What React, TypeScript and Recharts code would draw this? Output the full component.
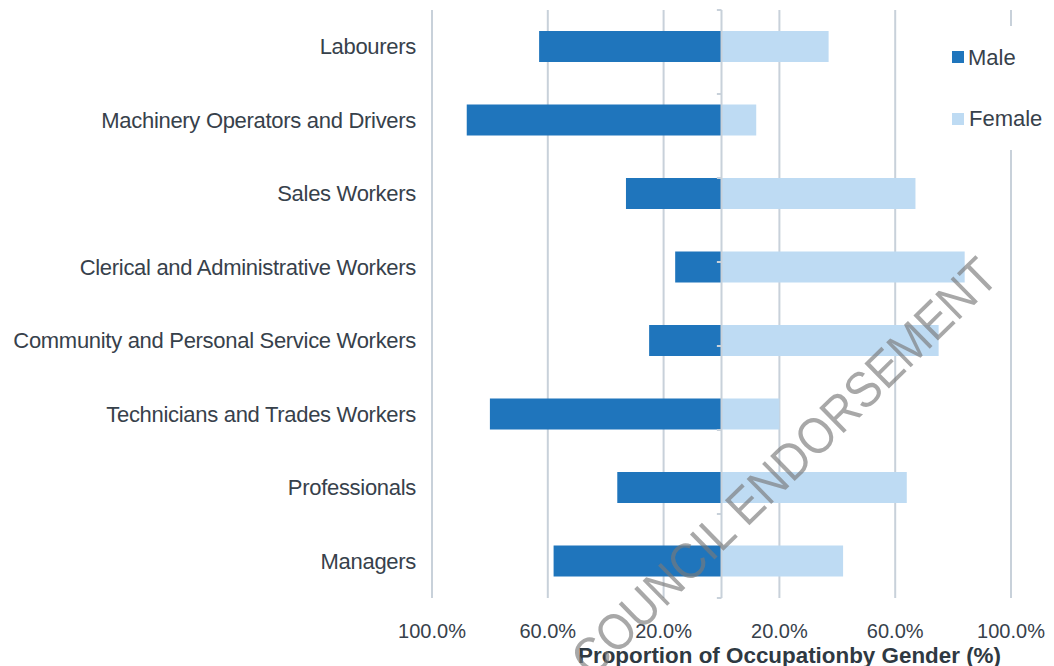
import React from 'react';
import { BarChart, Bar, XAxis, YAxis, CartesianGrid, ReferenceLine, Legend } from 'recharts';

const categories = [
  'Labourers',
  'Machinery Operators and Drivers',
  'Sales Workers',
  'Clerical and Administrative Workers',
  'Community and Personal Service Workers',
  'Technicians and Trades Workers',
  'Professionals',
  'Managers',
];
const maleValues = [63, 88, 33, 16, 25, 80, 36, 58];
const femaleValues = [37, 12, 67, 84, 75, 20, 64, 42];
const xTicks = [-100, -60, -20, 20, 60, 100];
const boundaries = [0, 1, 2, 3, 4, 5, 6, 7, 8];
const watermarkText = 'COUNCIL ENDORSEMENT';

const data = categories.map((c, i) => ({ name: c, male: -maleValues[i], female: femaleValues[i] }));

const TEXT = '#37414b';
const MALE = '#1f75bc';
const FEMALE = '#bedbf3';
const GRID = '#c8d1da';
const FONT = '"Liberation Sans", Arial, sans-serif';

const CatTick = (props: any) => {
  const { x, y, payload } = props;
  return (
    <text x={x} y={y} textAnchor="end" dominantBaseline="central" fill={TEXT} fontSize={22} fontFamily={FONT} letterSpacing={-0.3}>
      {payload.value}
    </text>
  );
};

const LegendContent = () => (
  <div style={{ position: 'relative', width: 105, height: 124, background: '#fff', fontFamily: FONT, color: TEXT, fontSize: 22 }}>
    <div style={{ position: 'absolute', left: 7, top: 25, width: 12, height: 12, background: MALE }} />
    <div style={{ position: 'absolute', left: 23, top: 20, lineHeight: '24px' }}>Male</div>
    <div style={{ position: 'absolute', left: 7, top: 87, width: 12, height: 12, background: FEMALE }} />
    <div style={{ position: 'absolute', left: 24, top: 81, lineHeight: '24px' }}>Female</div>
  </div>
);

const TitleLabel = (props: any) => {
  const { viewBox } = props;
  return (
    <text x={viewBox.x + viewBox.width / 2 + 68} y={viewBox.y + 57} textAnchor="middle" dominantBaseline="central" fill="#2f3942" fontSize={22.4} fontWeight="bold" fontFamily={FONT}>
      Proportion of Occupationby Gender (%)
    </text>
  );
};

export default function App() {
  return (
    <div style={{ position: 'absolute', left: 0, top: 0, width: 1054, height: 666, background: '#fff' }}>
      <BarChart
        width={1054}
        height={666}
        data={data}
        layout="vertical"
        stackOffset="sign"
        margin={{ top: 10, right: 43, bottom: 0, left: 0 }}
        barSize={31}
      >
        <CartesianGrid horizontal={false} vertical stroke={GRID} strokeWidth={2} />
        <XAxis
          type="number"
          domain={[-100, 100]}
          ticks={xTicks}
          tickFormatter={(v: number) => Math.abs(v).toFixed(1) + '%'}
          axisLine={false}
          tickLine={false}
          height={68}
          tickMargin={20}
          tick={{ fill: TEXT, fontSize: 20, fontFamily: FONT }}
          label={<TitleLabel />}
        />
        <YAxis
          type="category"
          dataKey="name"
          width={432}
          axisLine={false}
          tickLine={false}
          tickMargin={10}
          tick={<CatTick />}
        />
        <YAxis yAxisId="grid" type="number" domain={[0, 8]} hide />
        <Bar dataKey="male" stackId="a" fill={MALE} isAnimationActive={false} />
        <Bar dataKey="female" stackId="a" fill={FEMALE} isAnimationActive={false} />
        <ReferenceLine x={0} stroke={GRID} strokeWidth={2} />
        {boundaries.map((b) => (
          <ReferenceLine
            key={b}
            yAxisId="grid"
            segment={[{ x: -1.6, y: b }, { x: 0, y: b }]}
            stroke={GRID}
            strokeWidth={2}
          />
        ))}
        <Legend
          layout="horizontal"
          verticalAlign="middle"
          align="center"
          content={<LegendContent />}
          wrapperStyle={{ position: 'absolute', left: 945, top: 26, width: 105, height: 124 }}
        />
      </BarChart>
      <svg width={1054} height={666} style={{ position: 'absolute', left: 0, top: 0, pointerEvents: 'none' }}>
        <text
          x={784}
          y={467}
          transform="rotate(-44.4 784 467)"
          textAnchor="middle"
          dominantBaseline="central"
          fontSize={51}
          textLength={572}
          lengthAdjust="spacingAndGlyphs"
          fontFamily={FONT}
          fill="#7a7a7a"
          fillOpacity={0.65}
        >
          {watermarkText}
        </text>
      </svg>
    </div>
  );
}
